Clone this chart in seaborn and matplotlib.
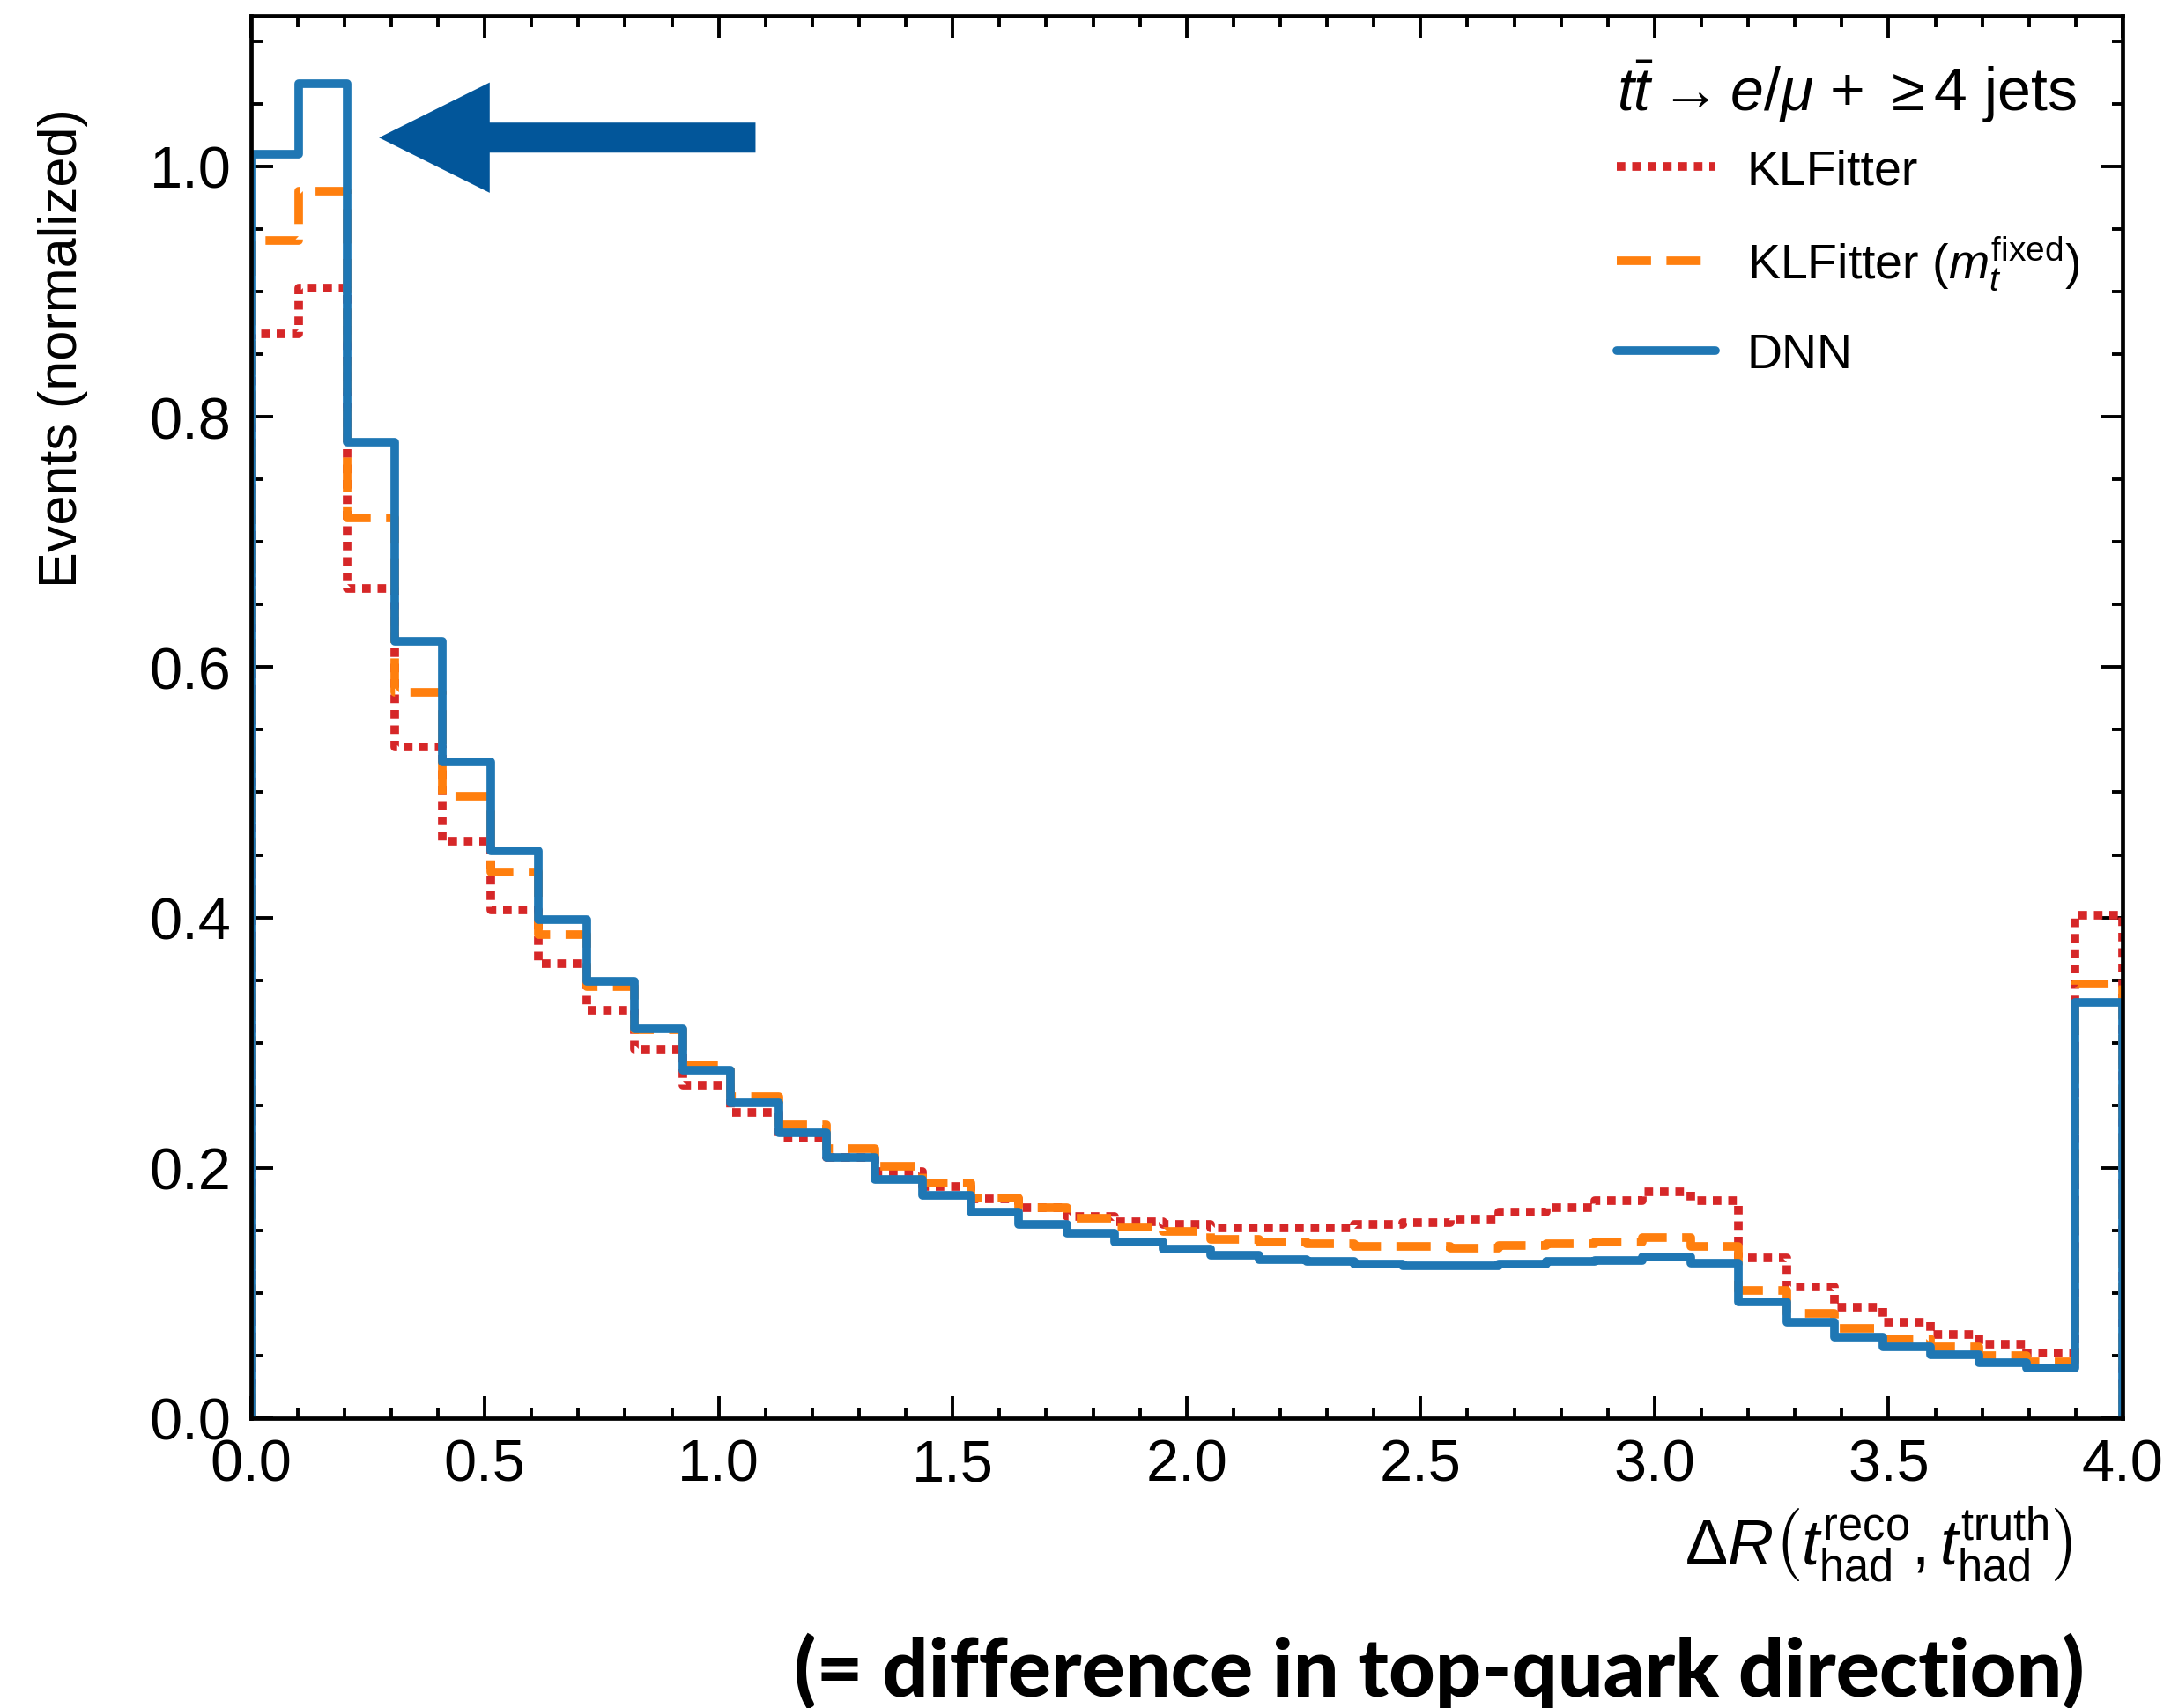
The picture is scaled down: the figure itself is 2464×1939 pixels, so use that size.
import numpy as np
import matplotlib.pyplot as plt
import seaborn as sns
from matplotlib.lines import Line2D
from matplotlib.ticker import MultipleLocator

# binning: 39 bins between 0 and 4 (last bin holds the overflow)
n_bins = 39
dr_min, dr_max = 0.0, 4.0

# normalized event counts per bin
klfitter = [0.866, 0.903, 0.663, 0.536, 0.461, 0.406, 0.363, 0.326, 0.295, 0.266,
            0.244, 0.224, 0.208, 0.197, 0.185, 0.175, 0.168, 0.161, 0.157, 0.155,
            0.152, 0.152, 0.152, 0.155, 0.156, 0.159, 0.165, 0.168, 0.174, 0.181,
            0.174, 0.128, 0.105, 0.089, 0.077, 0.067, 0.059, 0.052, 0.402]
klfitter_fixed = [0.941, 0.980, 0.719, 0.580, 0.497, 0.436, 0.386, 0.345, 0.310, 0.282,
                  0.257, 0.234, 0.215, 0.201, 0.188, 0.176, 0.168, 0.160, 0.153, 0.149,
                  0.143, 0.141, 0.139, 0.137, 0.137, 0.136, 0.138, 0.139, 0.141, 0.144,
                  0.137, 0.102, 0.084, 0.072, 0.063, 0.057, 0.050, 0.045, 0.347]
dnn = [1.010, 1.066, 0.780, 0.621, 0.524, 0.453, 0.398, 0.349, 0.311, 0.278,
       0.252, 0.228, 0.208, 0.191, 0.178, 0.165, 0.155, 0.148, 0.141, 0.135,
       0.130, 0.127, 0.125, 0.123, 0.122, 0.122, 0.123, 0.125, 0.126, 0.129,
       0.124, 0.093, 0.077, 0.065, 0.057, 0.051, 0.044, 0.040, 0.332]

labels = ["KLFitter", r"KLFitter ($m_t^{\mathrm{fixed}}$)", "DNN"]
colors = ["#d62728", "#ff7f0e", "#1f77b4"]
linestyles = [(0, (1, 0.8)), (0, (4, 1.8)), "-"]

sns.set_style("ticks")
plt.rcParams["font.family"] = ["Liberation Sans", "DejaVu Sans"]
plt.rcParams["mathtext.fontset"] = "custom"
plt.rcParams["mathtext.rm"] = "Liberation Sans"
plt.rcParams["mathtext.it"] = "Liberation Sans:italic"
plt.rcParams["mathtext.bf"] = "Liberation Sans:bold"
for key in ["text.color", "axes.labelcolor", "xtick.color", "ytick.color", "axes.edgecolor"]:
    plt.rcParams[key] = "black"

edges = np.linspace(dr_min, dr_max, n_bins + 1)


def outline(values):
    # closed step outline of a histogram (goes down to 0 at both ends)
    xs = np.repeat(edges, 2)
    ys = np.concatenate([[0.0], np.repeat(values, 2), [0.0]])
    return xs, ys


fig, ax = plt.subplots(figsize=(12.32, 9.7), dpi=200)
fig.subplots_adjust(left=0.1155, right=0.9777, top=0.990, bottom=0.1696)

handles = []
for label, vals, color, ls in zip(labels, [klfitter, klfitter_fixed, dnn], colors, linestyles):
    xs, ys = outline(vals)
    sns.lineplot(x=xs, y=ys, sort=False, estimator=None, ax=ax,
                 color=color, linewidth=3.5, linestyle=ls)
    handles.append(Line2D([], [], color=color, linewidth=3.5, linestyle=ls, label=label))

# arrow pointing at the DNN peak
ax.arrow(1.076, 1.023, -0.796, 0.0, width=0.022, head_width=0.085, head_length=0.228,
         length_includes_head=True, color="#02569a", zorder=5)

ax.set_xlim(dr_min, dr_max)
ax.set_ylim(0, 1.12)
ax.xaxis.set_major_locator(MultipleLocator(0.5))
ax.xaxis.set_minor_locator(MultipleLocator(0.1))
ax.yaxis.set_major_locator(MultipleLocator(0.2))
ax.yaxis.set_minor_locator(MultipleLocator(0.05))
ax.tick_params(which="both", direction="in", top=True, right=True, width=1.4, labelsize=24, pad=8)
ax.tick_params(which="major", length=9)
ax.tick_params(which="minor", length=4.5)
for sp in ax.spines.values():
    sp.set_linewidth(1.7)

ax.set_ylabel("Events (normalized)", fontsize=22)
ax.yaxis.set_label_coords(-0.087, 0.764)
ax.set_xlabel(r"$\Delta R\left(t^{\mathrm{reco}}_{\mathrm{had}},t^{\mathrm{truth}}_{\mathrm{had}}\right)$",
              fontsize=26, loc="right")
ax.xaxis.set_label_coords(0.973, -0.062)

# process label above the legend entries
ax.text(0.730, 0.933, r"$t\bar{t}\rightarrow e/\mu$ + $\geq$4 jets", transform=ax.transAxes,
        fontsize=24.5, ha="left", va="baseline")
ax.legend(handles=handles, loc="upper left", bbox_to_anchor=(0.730, 0.906), frameon=False,
          fontsize=20, handlelength=2.0, labelspacing=0.82, handletextpad=0.65,
          borderaxespad=0, borderpad=0)

fig.text(0.96, 0.0216, "(= difference in top-quark direction)", ha="right", va="center",
         fontsize=33, fontweight="black", family=["Lato", "DejaVu Sans"])

fig.savefig("out.png", dpi=200)
